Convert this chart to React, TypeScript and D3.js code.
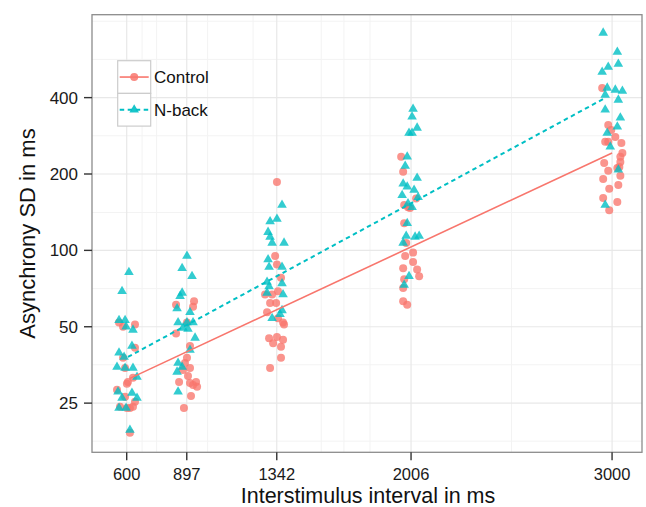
import React from "react";
import * as d3 from "d3";

// ---- data ----
const isiBreaks = [600, 897, 1342, 2006, 3000];
const sdBreaks = [25, 50, 100, 200, 400];
const sdMinor = [17.7, 35.4, 70.7, 141, 283, 566, 800];
const isiMinor = [676, 748, 1000, 1225, 1562, 1674, 1803, 2503];

const controlIsi = [
  562, 582, 641, 641, 582, 592, 631, 606, 601, 552, 592, 641, 567, 601, 616, 631, 616,
  844, 933, 928, 898, 844, 913, 898, 888, 913, 878, 903, 859, 943, 913, 928, 948, 918, 883,
  1343, 1334, 1343, 1363, 1348, 1284, 1319, 1309, 1339, 1294, 1348, 1373, 1378, 1304, 1324, 1343, 1373, 1363, 1363, 1309,
  1957, 1967, 1972, 1991, 2031, 2001, 1972, 1982, 1977, 2016, 2016, 1967, 2036, 1972, 2046, 1967, 1967, 1987,
  2951, 2981, 2996, 3016, 2966, 2981, 3046, 3051, 3041, 2961, 3041, 3036, 3026, 2981, 3041, 2956, 3031, 2986, 2956, 3026, 2986,
];
const controlSd = [
  52, 50, 51, 41.3, 37.7, 34.4, 31.5, 30.3, 29.8, 28.2, 26.5, 25.3, 24.2, 23.9, 23.9, 24.2, 19.1,
  61, 63, 60, 52, 47, 42, 37.7, 36, 34.4, 33.8, 32, 30.3, 30.3, 30, 29.5, 29, 26.7, 23.9,
  186, 95, 88, 78, 69, 67, 67, 62, 62, 57, 54, 52, 51, 45, 43, 45.6, 44.4, 41.7, 37.7, 34.4,
  234, 204, 151, 148, 160, 147, 128, 107, 95, 98, 90, 85, 84, 77, 79, 71, 63, 61,
  437, 312, 298, 280, 268, 268, 265, 242, 234, 221, 223, 213, 211, 206, 197, 191, 181, 175, 161, 155, 144,
];

const nbackIsi = [
  611, 577, 562, 592, 597, 631, 626, 562, 587, 552, 592, 631, 651, 557, 626, 577, 651, 562, 597, 616,
  898, 874, 923, 874, 864, 849, 913, 854, 898, 928, 878, 903, 938, 913, 854, 874, 849, 854,
  1368, 1309, 1343, 1299, 1309, 1319, 1378, 1299, 1304, 1368, 1294, 1304, 1368, 1294, 1373, 1368, 1319, 1358,
  2016, 2011, 2036, 1996, 2011, 1987, 1977, 2036, 1967, 1987, 2021, 1962, 2041, 1991, 2011, 1987, 1982, 2026, 2046, 1967, 1996, 1972,
  2956, 3026, 3031, 2981, 2951, 2976, 3016, 3051, 2966, 3031, 2966, 3041, 3026, 2976, 2991, 3031, 2966,
];
const nbackSd = [
  82, 69, 53, 53, 50, 48.6, 42, 39.5, 38, 34.7, 34.4, 34.4, 31.7, 27.7, 27.4, 26.2, 26.2, 23.9, 23.9, 19.6,
  95, 85, 79, 68, 66, 59, 57, 52, 52, 52, 49.5, 49, 45.2, 40.5, 36, 34.7, 33.2, 27.7,
  151, 130, 133, 118, 113, 107, 107, 92, 86, 86, 75, 72, 74, 68, 67, 58, 54, 56,
  361, 336, 304, 290, 290, 234, 215, 193, 183, 178, 173, 165, 162, 153, 148, 128, 114, 113, 114, 107, 79, 73,
  720, 605, 543, 528, 505, 437, 429, 425, 410, 392, 358, 333, 307, 290, 256, 208, 151,
];

const controlFitIsi = [616, 3000];
const controlFitSd = [31.3, 242];
const nbackFitIsi = [606, 2956];
const nbackFitSd = [38, 395];

const groups = ["Control", "N-back"];

// ---- layout ----
const W = 646;
const H = 507;
const P = { left: 92, right: 642, top: 14.7, bottom: 452.3 };
const RED = "#F8766D";
const CYAN = "#00BFC4";
const FONT = "'Liberation Sans', Arial, Helvetica, sans-serif";

export default function App() {
  const x = d3.scaleLinear().domain([428.4, 3148]).range([P.left, P.right]);
  const y = d3.scaleLog().domain([16.0, 849]).range([P.bottom, P.top]);
  const tri = d3.symbol().type(d3.symbolTriangle).size(40)();
  const line = d3
    .line<[number, number]>()
    .x((d) => x(d[0]))
    .y((d) => y(d[1]));
  const cFit = controlFitIsi.map((v, i) => [v, controlFitSd[i]] as [number, number]);
  const nFit = nbackFitIsi.map((v, i) => [v, nbackFitSd[i]] as [number, number]);

  const keyX = 117.7;
  const keyY = 60.7;
  const keyW = 33;
  const keyH = 32.7;

  return (
    <svg
      width={W}
      height={H}
      style={{ position: "absolute", left: 0, top: 0, background: "white" }}
      fontFamily={FONT}
    >
      <rect x={0} y={0} width={W} height={H} fill="white" />
      <defs>
        <clipPath id="panel">
          <rect x={P.left} y={P.top} width={P.right - P.left} height={P.bottom - P.top} />
        </clipPath>
      </defs>
      {/* grid */}
      <g>
        {sdMinor.map((v) => (
          <line key={"ym" + v} x1={P.left} x2={P.right} y1={y(v)} y2={y(v)} stroke="#f3f3f3" strokeWidth={1} />
        ))}
        {isiMinor.map((v) => (
          <line key={"xm" + v} x1={x(v)} x2={x(v)} y1={P.top} y2={P.bottom} stroke="#f3f3f3" strokeWidth={1} />
        ))}
        {sdBreaks.map((v) => (
          <line key={"yM" + v} x1={P.left} x2={P.right} y1={y(v)} y2={y(v)} stroke="#e8e8e8" strokeWidth={1.2} />
        ))}
        {isiBreaks.map((v) => (
          <line key={"xM" + v} x1={x(v)} x2={x(v)} y1={P.top} y2={P.bottom} stroke="#e8e8e8" strokeWidth={1.2} />
        ))}
      </g>
      {/* points */}
      <g clipPath="url(#panel)">
        {controlIsi.map((v, i) => (
          <circle key={"c" + i} cx={x(v)} cy={y(controlSd[i])} r={4} fill={RED} fillOpacity={0.78} />
        ))}
        {nbackIsi.map((v, i) => (
          <path
            key={"n" + i}
            d={tri}
            transform={`translate(${x(v)},${y(nbackSd[i])})`}
            fill={CYAN}
            fillOpacity={0.8}
          />
        ))}
        <path d={line(cFit) || ""} stroke={RED} strokeWidth={1.6} fill="none" />
        <path d={line(nFit) || ""} stroke={CYAN} strokeWidth={2} strokeDasharray="4.5,3.5" fill="none" />
      </g>
      {/* panel border */}
      <rect
        x={P.left}
        y={P.top}
        width={P.right - P.left}
        height={P.bottom - P.top}
        fill="none"
        stroke="#8c8c8c"
        strokeWidth={1.3}
      />
      {/* y axis */}
      <g>
        {sdBreaks.map((v) => (
          <g key={"yt" + v}>
            <line x1={P.left - 8} x2={P.left} y1={y(v)} y2={y(v)} stroke="#333" strokeWidth={1.4} />
            <text x={78} y={y(v)} dy="0.36em" textAnchor="end" fontSize={17} fill="#1a1a1a">
              {v}
            </text>
          </g>
        ))}
        <text
          transform={`translate(35,${(P.top + P.bottom) / 2}) rotate(-90)`}
          textAnchor="middle"
          fontSize={22}
          fill="#111"
        >
          Asynchrony SD in ms
        </text>
      </g>
      {/* x axis */}
      <g>
        {isiBreaks.map((v) => (
          <g key={"xt" + v}>
            <line x1={x(v)} x2={x(v)} y1={P.bottom} y2={P.bottom + 8} stroke="#333" strokeWidth={1.4} />
            <text x={x(v)} y={479.5} textAnchor="middle" fontSize={16.5} fill="#1a1a1a">
              {v}
            </text>
          </g>
        ))}
        <text x={(P.left + P.right) / 2 + 1} y={502.5} textAnchor="middle" fontSize={21.5} fill="#111">
          Interstimulus interval in ms
        </text>
      </g>
      {/* legend */}
      <g>
        {groups.map((g, i) => {
          const ky = keyY + i * keyH;
          const cy = ky + keyH / 2;
          return (
            <g key={g}>
              <rect x={keyX} y={ky} width={keyW} height={keyH} fill="white" stroke="#cccccc" strokeWidth={1.2} />
              {i === 0 ? (
                <>
                  <line x1={keyX + 2} x2={keyX + keyW - 2} y1={cy} y2={cy} stroke={RED} strokeWidth={1.6} />
                  <circle cx={keyX + keyW / 2} cy={cy} r={4} fill={RED} fillOpacity={0.85} />
                </>
              ) : (
                <>
                  <line
                    x1={keyX + 2}
                    x2={keyX + keyW - 2}
                    y1={cy}
                    y2={cy}
                    stroke={CYAN}
                    strokeWidth={2}
                    strokeDasharray="4.5,3.5"
                  />
                  <path d={tri} transform={`translate(${keyX + keyW / 2},${cy})`} fill={CYAN} fillOpacity={0.9} />
                </>
              )}
              <text x={154} y={cy} dy="0.36em" fontSize={17} fill="#111">
                {g}
              </text>
            </g>
          );
        })}
      </g>
    </svg>
  );
}
